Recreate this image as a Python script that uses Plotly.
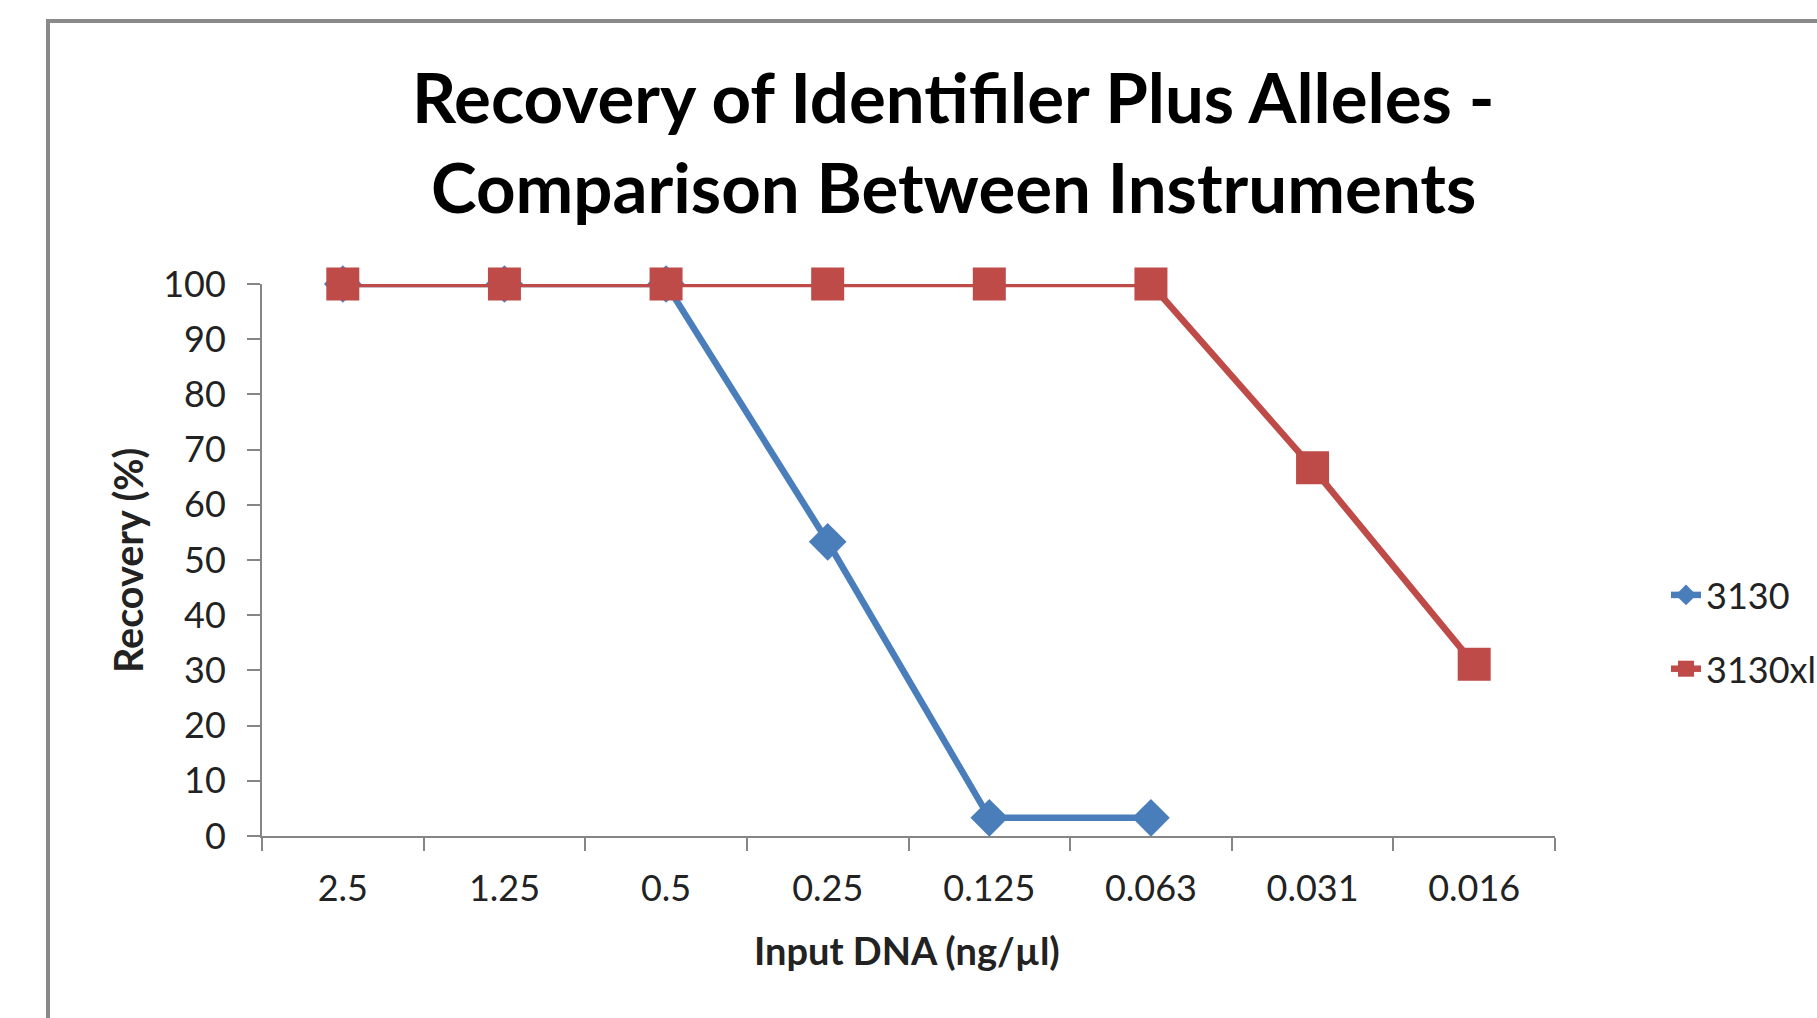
import plotly.graph_objects as go

categories = ["2.5", "1.25", "0.5", "0.25", "0.125", "0.063", "0.031", "0.016"]
recovery_3130 = [100, 100, 100, 53.3, 3.3, 3.3, None, None]
recovery_3130xl = [100, 100, 100, 100, 100, 100, 66.7, 31.1]
y_ticks = [0, 10, 20, 30, 40, 50, 60, 70, 80, 90, 100]

BLUE = "#4A7EBB"
RED = "#BE4B48"
AXIS = "#868686"
FONT = "Lato"
TXT = "#222222"

W, H = 1817, 1018
L, R, T, B = 262, 262, 284, 182

fig = go.Figure()
fig.add_trace(go.Scatter(
    x=categories, y=recovery_3130, name="3130", mode="lines+markers",
    line=dict(color=BLUE, width=6.5),
    marker=dict(symbol="diamond", size=29, color=BLUE),
    cliponaxis=False, legendgroup="a",
))
fig.add_trace(go.Scatter(
    x=categories, y=recovery_3130xl, name="3130xl", mode="lines+markers",
    line=dict(color=RED, width=6.5),
    marker=dict(symbol="square", size=33, color=RED),
    cliponaxis=False, legendgroup="b",
))

def px_x(X):
    return (X - L) / (W - L - R)

def px_y(Y):
    return (H - B - Y) / (H - T - B)

fig.update_layout(
    width=W, height=H,
    margin=dict(l=L, r=R, t=T, b=B, autoexpand=False),
    paper_bgcolor="white", plot_bgcolor="white",
    font=dict(family=FONT, color=TXT, size=36),
    showlegend=True,
    legend=dict(
        x=px_x(1666), y=px_y(565), xanchor="left", yanchor="top",
        font=dict(size=36, color=TXT, family=FONT),
        tracegroupgap=24, traceorder="grouped",
        bgcolor="rgba(0,0,0,0)",
    ),
    xaxis=dict(
        type="category", categoryorder="array", categoryarray=categories,
        range=[-0.5, len(categories) - 0.5],
        showline=True, linecolor=AXIS, linewidth=2,
        ticks="outside", tickson="boundaries", ticklen=13, tickwidth=2, tickcolor=AXIS,
        ticklabelstandoff=20,
        showgrid=False, zeroline=False,
        tickfont=dict(size=36, color=TXT, family=FONT),
    ),
    yaxis=dict(
        range=[0, 100], tickvals=y_ticks,
        showline=True, linecolor=AXIS, linewidth=2,
        ticks="outside", ticklen=13, tickwidth=2, tickcolor=AXIS,
        ticklabelstandoff=14,
        showgrid=False, zeroline=False,
        tickfont=dict(size=36, color=TXT, family=FONT),
    ),
    shapes=[dict(
        type="rect", xref="paper", yref="paper",
        x0=px_x(48), x1=px_x(1900), y0=px_y(1100), y1=px_y(21),
        line=dict(color="#8A8A8A", width=4), fillcolor="rgba(0,0,0,0)",
    )],
    annotations=[
        dict(text="<b>Recovery of Identifiler Plus Alleles -</b>", xref="paper", yref="paper",
             x=px_x(953), y=px_y(97), xanchor="center", yanchor="middle", showarrow=False,
             font=dict(size=69, family=FONT, color="black")),
        dict(text="<b>Comparison Between Instruments</b>", xref="paper", yref="paper",
             x=px_x(953), y=px_y(186), xanchor="center", yanchor="middle", showarrow=False,
             font=dict(size=69, family=FONT, color="black")),
        dict(text="<b>Input DNA (ng/µl)</b>", xref="paper", yref="paper",
             x=px_x(907), y=px_y(950), xanchor="center", yanchor="middle", showarrow=False,
             font=dict(size=38, family=FONT, color=TXT)),
        dict(text="<b>Recovery (%)</b>", xref="paper", yref="paper",
             x=px_x(127), y=px_y(561), xanchor="center", yanchor="middle", showarrow=False,
             textangle=-90, font=dict(size=39.5, family=FONT, color=TXT)),
    ],
)

fig.write_html("out.html")
